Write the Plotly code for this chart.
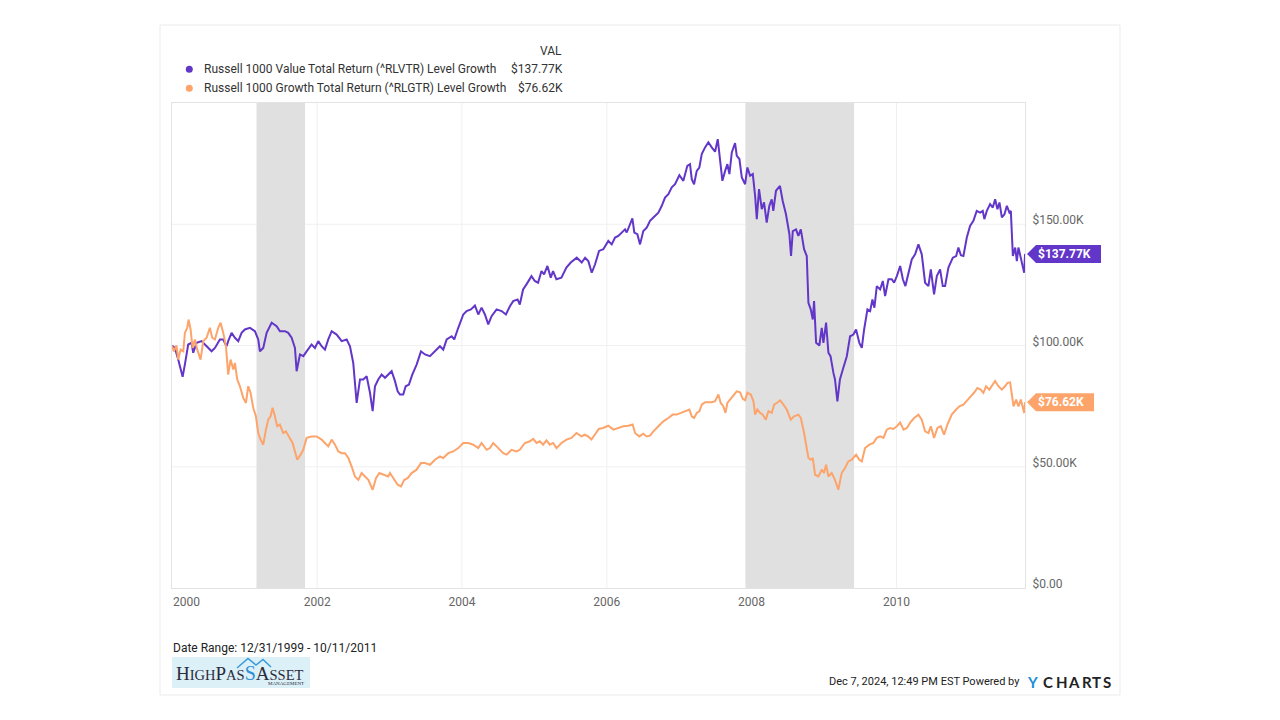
import numpy as np
import pandas as pd
import plotly.graph_objects as go

# ---------------- data (values in $K, time in years since 2000-01-01) ----------------
value_t = [
    -0.003, 0.037, 0.083, 0.144, 0.175, 0.221, 0.268, 0.29, 0.337, 0.406, 0.452, 0.497, 0.544, 0.59, 0.659, 0.704, 0.751, 0.773, 0.82, 0.866, 0.912, 0.958,
    1.004, 1.073, 1.142, 1.188, 1.211, 1.257, 1.304, 1.373, 1.442, 1.488, 1.557, 1.602, 1.649, 1.695, 1.718, 1.764, 1.81, 1.856, 1.925, 1.971,
    2.017, 2.063, 2.109, 2.155, 2.202, 2.271, 2.34, 2.409, 2.455, 2.5, 2.547, 2.593, 2.638, 2.685, 2.731, 2.768, 2.8, 2.845, 2.892, 2.938, 2.983,
    3.03, 3.076, 3.113, 3.145, 3.19, 3.224, 3.269, 3.315, 3.375, 3.435, 3.49, 3.559, 3.628, 3.697, 3.743, 3.79, 3.859, 3.895, 3.95,
    4.019, 4.065, 4.125, 4.18, 4.226, 4.272, 4.318, 4.364, 4.41, 4.479, 4.548, 4.608, 4.663, 4.709, 4.769, 4.8, 4.845, 4.892, 4.961,
    5.007, 5.052, 5.099, 5.135, 5.181, 5.227, 5.259, 5.305, 5.374, 5.443, 5.503, 5.586, 5.655, 5.701, 5.746, 5.793, 5.839, 5.894, 5.953,
    6.022, 6.069, 6.115, 6.16, 6.207, 6.253, 6.276, 6.322, 6.354, 6.381, 6.423, 6.46, 6.505, 6.552, 6.598, 6.644, 6.713, 6.76, 6.805, 6.851, 6.898, 6.943,
    7.003, 7.058, 7.113, 7.15, 7.174, 7.206, 7.243, 7.279, 7.312, 7.358, 7.403, 7.45, 7.496, 7.533, 7.565, 7.597, 7.635, 7.666, 7.694, 7.727, 7.772, 7.796, 7.832, 7.865, 7.911, 7.942, 7.98,
    8.017, 8.049, 8.072, 8.103, 8.141, 8.172, 8.209, 8.245, 8.278, 8.3, 8.337, 8.392, 8.43, 8.475, 8.522, 8.545, 8.569, 8.614, 8.646, 8.68, 8.725, 8.762, 8.785, 8.817, 8.845, 8.863, 8.891, 8.936, 8.969, 8.992,
    9.029, 9.061, 9.09, 9.13, 9.152, 9.185, 9.22, 9.26, 9.315, 9.36, 9.406, 9.443, 9.488, 9.522, 9.554, 9.6, 9.637, 9.669, 9.696, 9.729, 9.775, 9.812, 9.844, 9.89, 9.936, 9.968,
    10.006, 10.052, 10.089, 10.124, 10.166, 10.212, 10.258, 10.304, 10.35, 10.396, 10.442, 10.475, 10.52, 10.558, 10.603, 10.64, 10.672, 10.718, 10.779, 10.825, 10.856, 10.89, 10.925, 10.972,
    11.017, 11.063, 11.109, 11.155, 11.192, 11.214, 11.248, 11.294, 11.331, 11.363, 11.395, 11.423, 11.456, 11.492, 11.525, 11.56, 11.58, 11.608, 11.64, 11.663, 11.685, 11.718, 11.764, 11.776,
]
value_k = [
    100, 99.0, 94.2, 87.1, 92.1, 100.4, 101.1, 97.0, 101.1, 101.8, 100.4, 99.0, 97.6, 99.0, 102.5, 102.5, 99.7, 101.8, 105.2, 103.2, 101.8, 105.2,
    106.6, 107.3, 105.9, 102.5, 97.6, 99.0, 105.2, 109.4, 108.0, 105.9, 105.9, 105.2, 103.2, 99.0, 89.4, 96.3, 95.6, 97.6, 100.4, 99.0,
    101.8, 99.7, 98.3, 102.5, 105.9, 104.5, 101.8, 102.5, 99.7, 92.8, 76.3, 86.0, 86.0, 87.3, 80.5, 72.9, 83.2, 86.0, 88.0, 86.7, 88.0,
    89.4, 85.3, 81.1, 79.8, 79.8, 83.2, 83.9, 88.0, 92.1, 97.6, 96.3, 95.6, 97.6, 99.7, 98.3, 102.5, 103.8, 102.5, 107.3,
    112.8, 114.2, 114.9, 116.5, 112.8, 115.6, 112.8, 108.7, 112.1, 114.9, 114.2, 112.8, 116.2, 118.3, 119.0, 116.9, 123.1, 125.2, 128.6,
    126.6, 125.9, 130.7, 129.3, 132.8, 128.0, 130.7, 127.3, 128.0, 132.1, 134.2, 136.2, 134.2, 136.2, 134.8, 130.0, 133.5, 139.0, 139.7,
    143.1, 141.7, 144.5, 145.2, 146.6, 147.9, 146.6, 150.0, 152.4, 146.6, 145.9, 141.7, 147.2, 148.6, 151.4, 152.8, 154.8, 157.6, 161.0, 162.4, 165.2, 166.5,
    170.2, 167.9, 174.1, 174.8, 168.6, 166.5, 172.0, 173.4, 178.9, 181.7, 183.8, 181.7, 179.9, 185.1, 175.5, 167.9, 172.0, 174.8, 170.7, 179.6, 183.5, 178.2, 176.9, 169.3, 166.5, 173.4, 170.0,
    170.7, 161.7, 152.1, 164.5, 156.2, 159.0, 150.7, 157.6, 160.3, 155.5, 163.8, 165.8, 159.6, 154.1, 145.9, 136.9, 147.2, 147.9, 145.2, 147.9, 139.7, 136.9, 117.6, 114.9, 110.7, 118.3, 101.1, 100.0, 107.3, 101.1,
    109.4, 97.0, 95.6, 88.7, 86.0, 77.0, 86.0, 90.1, 95.6, 103.8, 104.5, 106.6, 101.1, 99.0, 106.6, 114.9, 114.2, 119.0, 115.6, 124.5, 123.1, 126.6, 120.4, 127.3, 127.3, 125.9,
    128.6, 132.8, 127.3, 124.5, 129.3, 135.5, 137.6, 141.7, 137.6, 125.9, 124.5, 131.4, 121.1, 128.6, 131.4, 124.5, 124.5, 132.1, 136.2, 136.9, 140.4, 137.2, 136.9, 144.5,
    149.3, 151.4, 155.5, 154.8, 155.5, 152.1, 155.5, 158.3, 156.9, 160.3, 156.2, 159.0, 152.8, 154.1, 157.6, 154.8, 155.5, 136.9, 140.4, 134.8, 140.4, 135.5, 130.0, 137.77,
]

growth_t = [
    -0.003, 0.023, 0.06, 0.083, 0.116, 0.153, 0.175, 0.208, 0.226, 0.254, 0.281, 0.313, 0.346, 0.392, 0.429, 0.475, 0.52, 0.553, 0.59, 0.636, 0.668, 0.705, 0.742, 0.773, 0.806, 0.843, 0.866, 0.898, 0.935, 0.981,
    1.018, 1.05, 1.082, 1.119, 1.156, 1.188, 1.22, 1.257, 1.294, 1.326, 1.358, 1.386, 1.418, 1.45, 1.487, 1.533, 1.57, 1.616, 1.662, 1.695, 1.727, 1.773, 1.81, 1.856, 1.925, 1.994,
    2.063, 2.109, 2.155, 2.202, 2.248, 2.294, 2.34, 2.386, 2.432, 2.478, 2.524, 2.57, 2.616, 2.662, 2.708, 2.768, 2.814, 2.86, 2.915, 2.983,
    3.007, 3.053, 3.113, 3.159, 3.205, 3.251, 3.306, 3.375, 3.435, 3.49, 3.559, 3.628, 3.697, 3.743, 3.812, 3.881, 3.95,
    4.019, 4.088, 4.157, 4.226, 4.272, 4.341, 4.387, 4.433, 4.502, 4.571, 4.617, 4.686, 4.755, 4.8, 4.87, 4.939, 4.985,
    5.03, 5.076, 5.122, 5.168, 5.214, 5.26, 5.306, 5.375, 5.444, 5.513, 5.582, 5.651, 5.697, 5.743, 5.789, 5.835, 5.89, 5.95,
    6.022, 6.092, 6.16, 6.23, 6.299, 6.358, 6.391, 6.45, 6.505, 6.552, 6.598, 6.644, 6.713, 6.782, 6.851, 6.911, 6.966,
    7.035, 7.081, 7.141, 7.174, 7.206, 7.243, 7.279, 7.312, 7.358, 7.403, 7.45, 7.496, 7.542, 7.574, 7.611, 7.639, 7.666, 7.703, 7.74, 7.795, 7.841, 7.878, 7.911, 7.942, 7.989,
    8.026, 8.049, 8.081, 8.118, 8.155, 8.196, 8.233, 8.279, 8.311, 8.348, 8.394, 8.44, 8.486, 8.541, 8.587, 8.647, 8.68, 8.725, 8.762, 8.785, 8.817, 8.845, 8.877, 8.923, 8.969,
    9.0, 9.029, 9.061, 9.106, 9.152, 9.198, 9.244, 9.29, 9.336, 9.383, 9.443, 9.488, 9.522, 9.567, 9.627, 9.682, 9.729, 9.775, 9.821, 9.867, 9.913, 9.959,
    10.006, 10.052, 10.098, 10.144, 10.19, 10.245, 10.304, 10.35, 10.396, 10.442, 10.475, 10.52, 10.566, 10.612, 10.658, 10.704, 10.764, 10.825, 10.87, 10.925, 10.98,
    11.026, 11.072, 11.118, 11.164, 11.201, 11.238, 11.284, 11.33, 11.363, 11.409, 11.455, 11.5, 11.533, 11.57, 11.593, 11.617, 11.653, 11.685, 11.718, 11.764, 11.776,
]
growth_k = [
    100, 97.6, 100, 94.2, 98.3, 97.6, 105.2, 107.3, 110.7, 106.6, 99.0, 102.5, 98.3, 94.2, 101.8, 103.2, 107.3, 103.2, 102.5, 107.3, 109.4, 105.2, 99.7, 88.0, 94.2, 90.1, 92.8, 86.0, 83.2, 78.4,
    76.3, 83.2, 80.5, 74.3, 70.8, 63.9, 61.2, 59.1, 65.3, 69.4, 70.8, 74.3, 70.8, 66.7, 67.4, 63.9, 64.6, 61.9, 59.8, 56.3, 52.9, 55.0, 57.0, 61.9, 62.5, 62.5,
    61.2, 59.8, 58.4, 61.2, 59.1, 56.3, 55.6, 55.6, 53.6, 50.1, 46.0, 44.6, 47.4, 46.0, 44.6, 40.5, 45.3, 47.4, 46.7, 46.0,
    47.4, 45.3, 42.6, 41.9, 44.6, 45.3, 47.4, 48.8, 51.5, 51.5, 50.8, 52.9, 54.3, 53.6, 55.6, 56.3, 57.7,
    59.8, 59.8, 59.1, 57.7, 59.8, 57.0, 57.7, 59.8, 57.7, 55.6, 55.0, 57.0, 56.3, 57.0, 59.8, 60.5, 61.5,
    59.8, 60.5, 59.1, 60.9, 59.1, 59.8, 57.7, 59.8, 61.2, 61.9, 63.9, 62.5, 63.2, 62.5, 61.2, 63.2, 65.6, 66.0,
    66.9, 65.3, 66.0, 66.7, 66.9, 67.4, 63.9, 62.5, 63.6, 62.5, 62.8, 64.6, 66.7, 68.7, 70.1, 71.5, 71.5,
    72.2, 72.9, 73.6, 70.8, 70.1, 72.2, 72.9, 75.6, 76.6, 76.6, 76.6, 77.0, 79.8, 76.3, 74.9, 72.2, 76.3, 77.7, 79.0, 81.1, 80.7, 78.0, 77.4, 80.5, 79.8,
    77.0, 71.5, 73.6, 72.2, 71.5, 69.4, 72.9, 72.2, 75.6, 76.3, 77.4, 75.6, 73.6, 69.4, 70.8, 71.5, 70.1, 63.9, 58.4, 53.6, 52.9, 53.6, 46.7, 46.0, 48.8,
    47.4, 50.8, 46.0, 47.4, 44.6, 40.5, 47.4, 49.5, 52.2, 52.9, 55.0, 52.9, 52.2, 57.7, 59.1, 59.8, 61.9, 62.5, 61.9, 65.3, 66.0, 65.6,
    66.7, 68.2, 65.3, 66.0, 68.2, 70.1, 71.5, 69.4, 64.6, 63.9, 66.7, 61.9, 66.0, 66.7, 63.2, 67.4, 71.5, 73.6, 74.9, 75.6, 77.7,
    79.0, 80.5, 82.5, 81.8, 80.5, 83.2, 81.8, 83.9, 85.3, 83.2, 81.8, 83.2, 84.6, 84.8, 80.5, 74.9, 77.7, 74.9, 77.7, 72.2, 76.62,
]

series_names = [
    "Russell 1000 Value Total Return (^RLVTR) Level Growth",
    "Russell 1000 Growth Total Return (^RLGTR) Level Growth",
]
last_labels = ["$137.77K", "$76.62K"]
last_values = [137.77, 76.62]

y_tickvals = [0, 50, 100, 150]
y_ticktext = ["$0.00", "$50.00K", "$100.00K", "$150.00K"]
x_tickvals = ["2002-01-01", "2004-01-01", "2006-01-01", "2008-01-01", "2010-01-01"]
x_ticktext = ["2002", "2004", "2006", "2008", "2010"]
first_tick_label = "2000"
recessions = [("2001-03-01", "2001-11-01"), ("2007-12-01", "2009-06-01")]
x_range = ["1999-12-31", "2011-10-11"]

PURPLE = "#6236c8"
ORANGE = "#fda46b"
GRID = "#f0f0f0"
FONT = "Roboto"


def to_dates(t):
    return pd.Timestamp("2000-01-01") + pd.to_timedelta(np.asarray(t) * 365.25, unit="D")


# plot area in pixels: x 172..1025, y 103..588
L, R, T, B = 172, 1025, 103, 588


def PX(x):
    return (x - L) / (R - L)


def PY(y):
    return (B - y) / (B - T)


fig = go.Figure()
fig.add_trace(go.Scatter(x=to_dates(value_t), y=value_k, mode="lines",
                         line=dict(color=PURPLE, width=2), name=series_names[0],
                         showlegend=False))
fig.add_trace(go.Scatter(x=to_dates(growth_t), y=growth_k, mode="lines",
                         line=dict(color=ORANGE, width=2), name=series_names[1],
                         showlegend=False))

shapes = []
# card border
shapes.append(dict(type="rect", xref="paper", yref="paper", x0=PX(160), x1=PX(1120),
                   y0=PY(695), y1=PY(25), line=dict(color="#ebebeb", width=1),
                   fillcolor="rgba(0,0,0,0)", layer="below"))
# gridlines (drawn as shapes so the recession bands cover them)
for xv in x_tickvals:
    shapes.append(dict(type="line", xref="x", yref="paper", x0=xv, x1=xv, y0=0, y1=1,
                       line=dict(color=GRID, width=1), layer="below"))
for yv in y_tickvals[1:]:
    shapes.append(dict(type="line", xref="paper", yref="y", x0=0, x1=1, y0=yv, y1=yv,
                       line=dict(color=GRID, width=1), layer="below"))
# recession shading
for a, b in recessions:
    shapes.append(dict(type="rect", xref="x", yref="paper", x0=a, x1=b, y0=0, y1=1,
                       fillcolor="#e0e0e0", line=dict(width=0), layer="below"))
# legend dots
for col, yy in [(PURPLE, 69.3), (ORANGE, 88.3)]:
    shapes.append(dict(type="circle", xref="paper", yref="paper", xsizemode="pixel",
                       ysizemode="pixel", xanchor=PX(189.3), yanchor=PY(yy),
                       x0=-3.5, x1=3.5, y0=-3.5, y1=3.5, fillcolor=col, line=dict(width=0)))
# end-value tags
for col, v, w in [(PURPLE, last_values[0], 76), (ORANGE, last_values[1], 69)]:
    shapes.append(dict(type="path", xref="paper", yref="y", xsizemode="pixel",
                       ysizemode="pixel", xanchor=1, yanchor=v,
                       path=f"M 2,0 L 11,9 L {w},9 L {w},-9 L 11,-9 Z",
                       fillcolor=col, line=dict(width=0), layer="above"))
# logo box
shapes.append(dict(type="rect", xref="paper", yref="paper", x0=PX(172), x1=PX(310),
                   y0=PY(688), y1=PY(657), fillcolor="#dcf0f8", line=dict(width=0)))
shapes.append(dict(type="path", xref="paper", yref="paper",
                   path="M {},{} L {},{} L {},{} L {},{} L {},{}".format(
                       PX(237), PY(668), PX(248), PY(658.5), PX(256), PY(665),
                       PX(263), PY(659.5), PX(271), PY(667)),
                   line=dict(color="#3a9ad9", width=1.5)))

ann = []
# legend
ann.append(dict(x=PX(564), y=PY(50.7), xref="paper", yref="paper", text="VAL",
                xanchor="right", yanchor="middle", showarrow=False,
                font=dict(family=FONT, size=12, color="#333333")))
for name, lab, yy in [(series_names[0], last_labels[0], 69.3), (series_names[1], last_labels[1], 88.3)]:
    ann.append(dict(x=PX(201.5), y=PY(yy), xref="paper", yref="paper", text=name,
                    xanchor="left", yanchor="middle", showarrow=False,
                    font=dict(family=FONT, size=12, color="#333333")))
    ann.append(dict(x=PX(565), y=PY(yy), xref="paper", yref="paper", text=lab,
                    xanchor="right", yanchor="middle", showarrow=False,
                    font=dict(family=FONT, size=12, color="#333333")))
# tag texts
for lab, v in zip(last_labels, last_values):
    ann.append(dict(x=1, y=v, xref="paper", yref="y", xshift=11, text="<b>" + lab + "</b>",
                    xanchor="left", yanchor="middle", showarrow=False,
                    font=dict(family=FONT, size=12, color="white")))
# first x tick label (left aligned at the plot edge)
ann.append(dict(x=0, y=PY(602), xref="paper", yref="paper", text=first_tick_label,
                xanchor="left", yanchor="middle", showarrow=False, xshift=-1,
                font=dict(family=FONT, size=12, color="#666666")))
# footer
ann.append(dict(x=PX(171), y=PY(647.5), xref="paper", yref="paper",
                text="Date Range: 12/31/1999 - 10/11/2011", xanchor="left", yanchor="middle",
                showarrow=False, font=dict(family=FONT, size=12, color="#222222")))
logo = ("<span style='font-size:19px'>H</span><span style='font-size:14.5px'>IGH</span>"
        "<span style='font-size:19px'>P</span><span style='font-size:14.5px'>AS</span>"
        "<span style='font-size:20px;color:#2f8fd6'>S</span>"
        "<span style='font-size:19px'>A</span><span style='font-size:14.5px'>SSET</span>")
ann.append(dict(x=PX(174), y=PY(672.5), xref="paper", yref="paper", text=logo,
                xanchor="left", yanchor="middle", showarrow=False,
                font=dict(family="Liberation Serif", size=14.5, color="#2b2b3c")))
ann.append(dict(x=PX(306), y=PY(683.5), xref="paper", yref="paper", text="MANAGEMENT",
                xanchor="right", yanchor="middle", showarrow=False,
                font=dict(family="Liberation Serif", size=5, color="#2b2b3c")))
ann.append(dict(x=PX(1022), y=PY(681.5), xref="paper", yref="paper",
                text="Dec 7, 2024, 12:49 PM EST Powered by", xanchor="right", yanchor="middle",
                showarrow=False, font=dict(family=FONT, size=11, color="#222222")))
for ch, cx, col in [("Y", 1032, "#1a8cd8"), ("C", 1047.5, "#222222"), ("H", 1061.7, "#222222"),
                    ("A", 1074, "#222222"), ("R", 1086.7, "#222222"), ("T", 1096.7, "#222222"),
                    ("S", 1106.7, "#222222")]:
    ann.append(dict(x=PX(cx), y=PY(681.5), xref="paper", yref="paper", text="<b>" + ch + "</b>",
                    xanchor="center", yanchor="middle", showarrow=False,
                    font=dict(family="Lato", size=15, color=col)))

fig.update_layout(
    width=1280, height=720,
    margin=dict(l=L, r=1280 - R, t=T, b=720 - B, pad=0),
    paper_bgcolor="white", plot_bgcolor="white",
    font=dict(family=FONT, size=12, color="#666666"),
    shapes=shapes, annotations=ann, showlegend=False,
    xaxis=dict(type="date", range=x_range, tickvals=x_tickvals, ticktext=x_ticktext,
               showgrid=False, zeroline=False,
               showline=True, mirror=True, linecolor="#e3e3e3", linewidth=1,
               ticks="", ticklabelstandoff=3,
               tickfont=dict(family=FONT, size=12, color="#666666")),
    yaxis=dict(range=[0, 200], side="right", tickvals=y_tickvals, ticktext=y_ticktext,
               showgrid=False, zeroline=False,
               showline=True, mirror=True, linecolor="#e3e3e3", linewidth=1,
               ticks="", ticklabelposition="outside", ticklabelshift=-4, ticklabelstandoff=4,
               tickfont=dict(family=FONT, size=12, color="#666666")),
)

fig.write_html("out.html", config={"displayModeBar": False},
               post_script="document.body.style.margin='0';")
